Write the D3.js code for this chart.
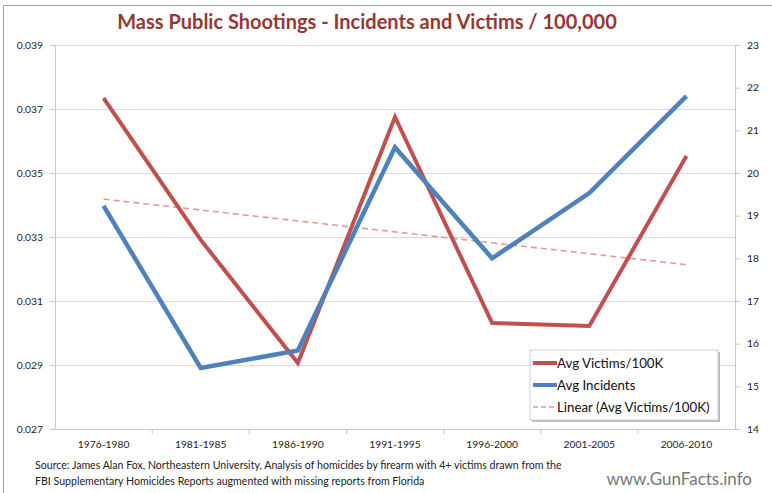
<!DOCTYPE html>
<html>
<head>
    <title>Mass Public Shootings</title>
    <script src="https://cdn.jsdelivr.net/npm/d3@7/dist/d3.min.js"></script>
    <style>
        body { margin: 0; background: #fff; }
        text { font-family: Lato, "Open Sans", sans-serif; }
    </style>
</head>
<body>
    <svg width="772" height="493" id="mainsvg"></svg>
    <script>
        // data
        const periods = ['1976-1980', '1981-1985', '1986-1990', '1991-1995', '1996-2000', '2001-2005', '2006-2010'];
        const victims = [0.03734, 0.03291, 0.02906, 0.03675, 0.03031, 0.03022, 0.03553];
        const incidents = [19.23, 15.43, 15.84, 20.6, 18.0, 19.53, 21.8];
        const leftTicks = [0.027, 0.029, 0.031, 0.033, 0.035, 0.037, 0.039];
        const rightTicks = [14, 15, 16, 17, 18, 19, 20, 21, 22, 23];

        const svg = d3.select('#mainsvg');
        const plot = { left: 55, right: 735, top: 45, bottom: 429 };
        const red = '#c0504d', blue = '#4f81bd';

        // frame (top + left edge visible)
        svg.append('path').attr('d', 'M3.5,493 V5.5 H772').attr('fill', 'none').attr('stroke', '#a0a0a0');

        const xScale = d3.scaleBand().domain(periods).range([plot.left, plot.right]);
        const xMid = d => xScale(d) + xScale.bandwidth() / 2;
        const yLeft = d3.scaleLinear().domain([0.027, 0.039]).range([plot.bottom, plot.top]);
        const yRight = d3.scaleLinear().domain([14, 23]).range([plot.bottom, plot.top]);

        // gridlines
        svg.append('g').selectAll('line').data(leftTicks.slice(1)).join('line')
            .attr('x1', plot.left).attr('x2', plot.right)
            .attr('y1', d => Math.round(yLeft(d)) + 0.5).attr('y2', d => Math.round(yLeft(d)) + 0.5)
            .attr('stroke', '#d9d9d9').attr('stroke-width', 1.2);

        // left axis
        const leftAxis = svg.append('g').attr('transform', `translate(${plot.left},0)`)
            .call(d3.axisLeft(yLeft).tickValues(leftTicks).tickFormat(d3.format('.3f')).tickSize(5).tickPadding(7));
        // right axis
        const rightAxis = svg.append('g').attr('transform', `translate(${plot.right},0)`)
            .call(d3.axisRight(yRight).tickValues(rightTicks).tickFormat(d3.format('d')).tickSize(5).tickPadding(7));
        // bottom axis with ticks on category boundaries
        const bottomAxis = svg.append('g').attr('transform', `translate(0,${plot.bottom})`)
            .call(d3.axisBottom(xScale).tickSize(0).tickPadding(12));
        bottomAxis.selectAll('.boundary').data(periods.slice(1)).join('line')
            .attr('class', 'boundary')
            .attr('x1', d => xScale(d)).attr('x2', d => xScale(d))
            .attr('y1', 0).attr('y2', 5).attr('stroke', '#c8c8c8');

        [leftAxis, rightAxis, bottomAxis].forEach(a => {
            a.selectAll('.domain').attr('stroke', '#c8c8c8');
            a.selectAll('.tick line').attr('stroke', '#c8c8c8');
            a.selectAll('.tick text').attr('fill', '#222').attr('font-size', 10.3)
                .style('font-family', 'Lato, sans-serif');
        });

        // trend line (least squares of victims, like Excel's Linear trendline)
        const n = victims.length;
        const xm = (n - 1) / 2;
        const ym = d3.mean(victims);
        const slope = d3.sum(victims, (v, i) => (i - xm) * (v - ym)) / d3.sum(victims, (v, i) => (i - xm) ** 2);
        const trend = periods.map((p, i) => ym + slope * (i - xm));

        svg.append('path').datum(trend)
            .attr('d', d3.line().x((d, i) => xMid(periods[i])).y(d => yLeft(d)))
            .attr('fill', 'none').attr('stroke', '#e59a97').attr('stroke-width', 1.6)
            .attr('stroke-dasharray', '6,4');

        svg.append('path').datum(victims)
            .attr('d', d3.line().x((d, i) => xMid(periods[i])).y(d => yLeft(d)))
            .attr('fill', 'none').attr('stroke', red).attr('stroke-width', 4)
            .attr('stroke-linejoin', 'miter');

        svg.append('path').datum(incidents)
            .attr('d', d3.line().x((d, i) => xMid(periods[i])).y(d => yRight(d)))
            .attr('fill', 'none').attr('stroke', blue).attr('stroke-width', 4.5)
            .attr('stroke-linejoin', 'miter');

        // title
        svg.append('text').attr('x', 367).attr('y', 29).attr('text-anchor', 'middle')
            .attr('fill', '#953735').attr('font-size', 20).attr('font-weight', 'bold')
            .text('Mass Public Shootings - Incidents and Victims / 100,000');

        // legend
        const legend = svg.append('g').attr('transform', 'translate(530,350)');
        legend.append('rect').attr('x', 2).attr('y', 2).attr('width', 188).attr('height', 70)
            .attr('fill', '#bbb');
        legend.append('rect').attr('width', 188).attr('height', 70)
            .attr('fill', '#fff').attr('stroke', '#d0d0d0');
        const legendItems = [
            { label: 'Avg Victims/100K', color: red, width: 4, dash: null },
            { label: 'Avg Incidents', color: blue, width: 4, dash: null },
            { label: 'Linear (Avg Victims/100K)', color: '#e59a97', width: 1.6, dash: '5,3' }
        ];
        legendItems.forEach((it, i) => {
            const y = 13 + i * 22;
            legend.append('line').attr('x1', 3).attr('x2', 27).attr('y1', y).attr('y2', y)
                .attr('stroke', it.color).attr('stroke-width', it.width)
                .attr('stroke-dasharray', it.dash);
            legend.append('text').attr('x', 27).attr('y', y + 4.5)
                .attr('font-size', 13.3).attr('fill', '#111').text(it.label);
        });

        // source + website
        svg.append('text').attr('x', 35).attr('y', 469).attr('font-size', 10.6).attr('fill', '#222')
            .text('Source: James Alan Fox, Northeastern University, Analysis of homicides by firearm with 4+ victims drawn from the');
        svg.append('text').attr('x', 35).attr('y', 485).attr('font-size', 10.6).attr('fill', '#222')
            .text('FBI Supplementary Homicides Reports augmented with missing reports from Florida');
        svg.append('text').attr('x', 752).attr('y', 485).attr('text-anchor', 'end')
            .attr('font-size', 17).attr('fill', '#777')
            .text('www.GunFacts.info');
    </script>
</body>
</html>
